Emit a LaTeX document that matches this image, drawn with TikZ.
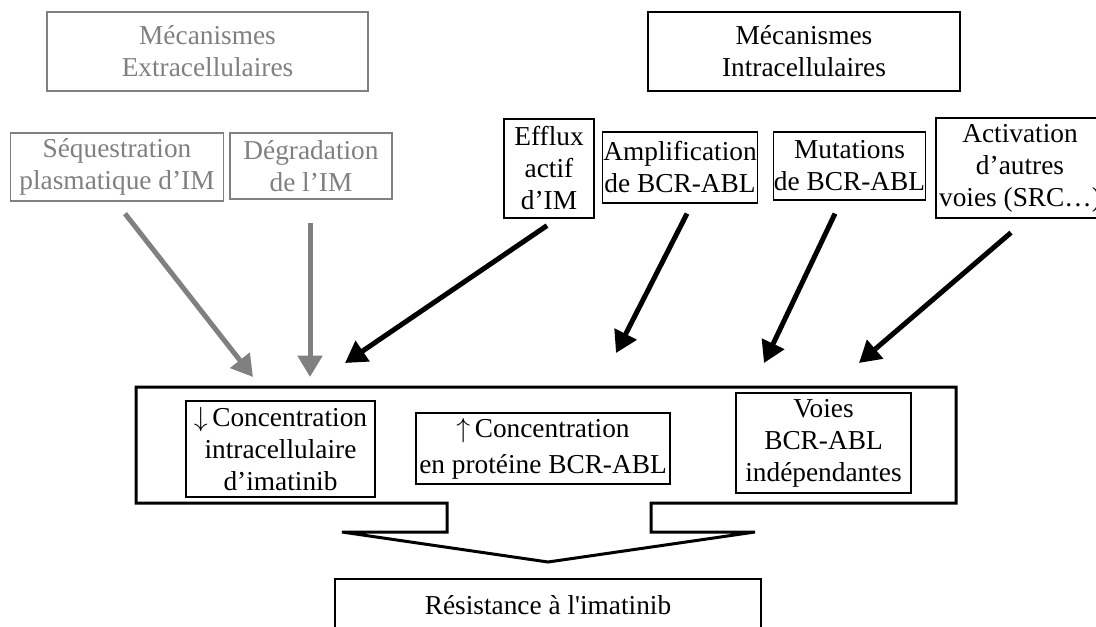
\documentclass[tikz,border=0pt]{standalone}
\usepackage{fontspec}
\setmainfont{Liberation Serif}
\usetikzlibrary{arrows.meta}
\definecolor{midgrey}{RGB}{128,128,128}

\begin{document}
\begin{tikzpicture}[x=0.75pt,y=-0.75pt,
  box/.style={draw,line width=0.9pt,inner sep=0.5pt,align=center,font=\fontsize{20.5}{24}\selectfont},
  greybox/.style={box,draw=midgrey,text=midgrey},
  greyarrow/.style={line width=3.75pt,midgrey,-{Triangle[length=16pt,width=18pt]}},
  blackarrow/.style={line width=3.75pt,black,-{Triangle[length=16pt,width=18pt]}}]

\useasboundingbox (0,0) rectangle (1096,626);
\clip (0,0) rectangle (1096,626);

% headings
\node[greybox,minimum width=240.75pt,minimum height=59.25pt] (extra) at (207.5,51.5) {Mécanismes\\Extracellulaires};
\node[box,minimum width=234pt,minimum height=59.25pt] (intra) at (804,51.5) {Mécanismes\\Intracellulaires};

% causes
\node[greybox,minimum width=159.75pt,minimum height=51pt] (seq) at (117,167) {Séquestration\\plasmatique d’IM};
\node[greybox,minimum width=121.5pt,minimum height=49.5pt] (deg) at (311,166) {Dégradation\\de l’IM};
\node[box,minimum width=67.5pt,minimum height=74.25pt] (eff) at (549,168.5) {Efflux\\actif\\d’IM};
\node[box,minimum width=115.5pt,minimum height=53.25pt] (amp) at (680,167.5) {Amplification\\de BCR-ABL};
\node[box,minimum width=113.25pt,minimum height=51pt] (mut) at (849.5,166) {Mutations\\de BCR-ABL};
\node[box,minimum width=126pt,minimum height=75pt] (act) at (1020,168) {Activation\\d’autres\\voies (SRC…)};

% frame with arrow
\draw[line width=2.25pt,line join=miter] (136,387) -- (956,387) -- (956,503) -- (651,503) -- (651,532) -- (755,532)
  -- (548,562) -- (342,532) -- (447,532) -- (447,503) -- (136,503) -- cycle;

\node[box,minimum width=141.75pt,minimum height=72pt] (down) at (280.5,449) {$\downarrow$\,Concentration\\intracellulaire\\d’imatinib};
\node[box,minimum width=190.5pt,minimum height=53.25pt,font=\fontsize{20.5}{27}\selectfont] (up) at (543,448.5) {$\uparrow$\,Concentration\\en protéine BCR-ABL};
\node[box,minimum width=131.25pt,minimum height=75pt] (voies) at (823.5,443) {Voies\\BCR-ABL\\indépendantes};

\node[box,minimum width=319.5pt,minimum height=39pt] (res) at (548,605) {Résistance à l\textquotesingle imatinib};

% arrow ends
\coordinate (t1) at (253,377);
\coordinate (t2) at (310,377);
\coordinate (t3) at (345,363);
\coordinate (t4) at (616,353);
\coordinate (t5) at (764,363);
\coordinate (t6) at (859,363);

\draw[greyarrow] ([shift={(8,12)}]seq.south) -- (t1);
\draw[greyarrow] ([shift={(-1,23)}]deg.south) -- (t2);
\draw[blackarrow] ([shift={(-2,7)}]eff.south) -- (t3);
\draw[blackarrow] ([shift={(7,10)}]amp.south) -- (t4);
\draw[blackarrow] ([shift={(-14.5,13)}]mut.south) -- (t5);
\draw[blackarrow] ([shift={(-9,14)}]act.south) -- (t6);
\end{tikzpicture}
\end{document}
